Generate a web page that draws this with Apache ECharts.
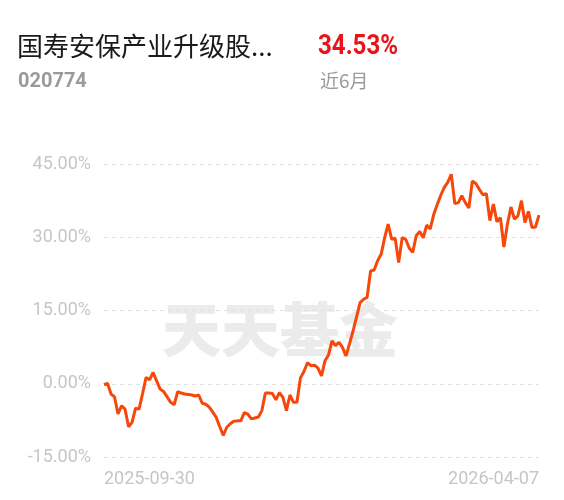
<!DOCTYPE html>
<html>
<head>
<meta charset="utf-8">
<script src="https://cdn.jsdelivr.net/npm/echarts@6/dist/echarts.min.js"></script>
<style>
  html, body { margin: 0; padding: 0; background: #fff; }
  #chart { width: 564px; height: 500px; }
</style>
</head>
<body>
<div id="chart"></div>
<script>
// шапка
const fundName = '国寿安保产业升级股...'
const fundCode = '020774'
const periodReturn = '34.53%'
const periodName = '近6月'

// ось Y: проценты
const yTicks = [-15, 0, 15, 30, 45]
// подписи оси X: только первая и последняя дата
const xTickLabels = ['2025-09-30', '2026-04-07']

// доходность, %, по торговым дням
const returns = [
  -0.2, 0.1, -2.1, -2.7, -6.2, -4.5, -5.2, -8.8, -7.9, -5.0,
  -5.2, -2.0, 1.3, 0.8, 2.3, 0.6, -1.1, -1.6, -2.7, -3.8,
  -4.3, -1.6, -1.9, -2.1, -2.2, -2.3, -2.5, -2.3, -4.0, -4.2,
  -4.8, -5.8, -6.9, -8.8, -10.6, -8.9, -8.2, -7.7, -7.6, -7.6,
  -5.9, -6.2, -7.2, -7.0, -6.8, -5.5, -1.9, -1.9, -2.0, -3.3,
  -1.8, -2.8, -5.5, -2.3, -3.8, -3.8, 1.2,
  2.5, 4.3, 3.7, 3.8, 3.2, 1.6, 4.7, 5.9, 8.8, 7.8,
  8.5, 7.4, 5.7, 8.2, 10.8, 13.7, 16.6, 17.3, 17.7, 23.1,
  23.3, 25.2, 26.5, 29.9, 32.7,
  29.6, 29.8, 24.8, 29.9, 29.6, 27.8, 26.9, 30.3, 31.2, 29.9,
  32.5, 31.7, 34.7, 36.7, 38.6, 40.2, 41.3, 42.9,
  36.9, 37.1, 38.5, 37.1, 36.0, 41.5, 41.0, 39.8, 38.7, 38.9,
  33.4, 36.8, 33.2, 34.0, 28.0, 32.7, 36.2, 33.7, 34.4, 37.5,
  33.0, 35.3, 32.0, 32.1, 34.53
]

const categories = returns.map((_, i) => String(i))
const lastIdx = returns.length - 1

const chart = echarts.init(document.getElementById('chart'))

chart.setOption({
  backgroundColor: '#fff',
  animation: false,
  grid: { left: 104, right: 25, top: 164, bottom: 43, containLabel: false },
  graphic: [
    { type: 'text', x: 17, y: 33, style: { text: fundName, fill: '#1a1a1a', verticalAlign: 'top', font: '26px "Noto Sans CJK SC", sans-serif' } },
    { type: 'text', x: 18, y: 72, style: { text: fundCode, fill: '#9a9a9a', verticalAlign: 'top', font: 'bold 20px Roboto, sans-serif' } },
    // узкий жирный шрифт — сжимаем по горизонтали
    { type: 'text', x: 318, y: 33, scaleX: 0.86, style: { text: periodReturn, fill: '#e8141a', verticalAlign: 'top', font: 'bold 28px Roboto, sans-serif' } },
    { type: 'text', x: 320, y: 71, style: { text: periodName, fill: '#9a9a9a', verticalAlign: 'top', font: '19px "Noto Sans CJK SC", sans-serif' } },
    // водяной знак
    { type: 'text', z: 0, x: 162, y: 300, style: { text: '天天基金', fill: '#ebebeb', verticalAlign: 'top', font: '900 59px "Noto Sans CJK SC", serif' } }
  ],
  xAxis: {
    type: 'category',
    data: categories,
    boundaryGap: false,
    axisLine: { show: false },
    axisTick: { show: false },
    splitLine: { show: false },
    axisLabel: {
      interval: (i) => i === 0 || i === lastIdx,
      formatter: (v, i) => (i === 0 ? xTickLabels[0] : xTickLabels[1]),
      alignMinLabel: 'left',
      alignMaxLabel: 'right',
      color: '#c6c6c6',
      fontSize: 18,
      fontFamily: 'Roboto',
      margin: 13
    }
  },
  yAxis: {
    type: 'value',
    min: yTicks[0],
    max: yTicks[yTicks.length - 1],
    interval: 15,
    axisLine: { show: false },
    axisTick: { show: false },
    axisLabel: {
      formatter: (v) => v.toFixed(2) + '%',
      color: '#c6c6c6',
      fontSize: 18,
      fontFamily: 'Roboto',
      margin: 13
    },
    splitLine: { show: true, lineStyle: { color: '#e2e2e2', type: [4, 4], width: 1 } }
  },
  series: [{
    type: 'line',
    data: returns,
    z: 5,
    showSymbol: false,
    smooth: false,
    lineStyle: { color: '#f5480a', width: 3 },
    emphasis: { disabled: true }
  }]
})
</script>
</body>
</html>
